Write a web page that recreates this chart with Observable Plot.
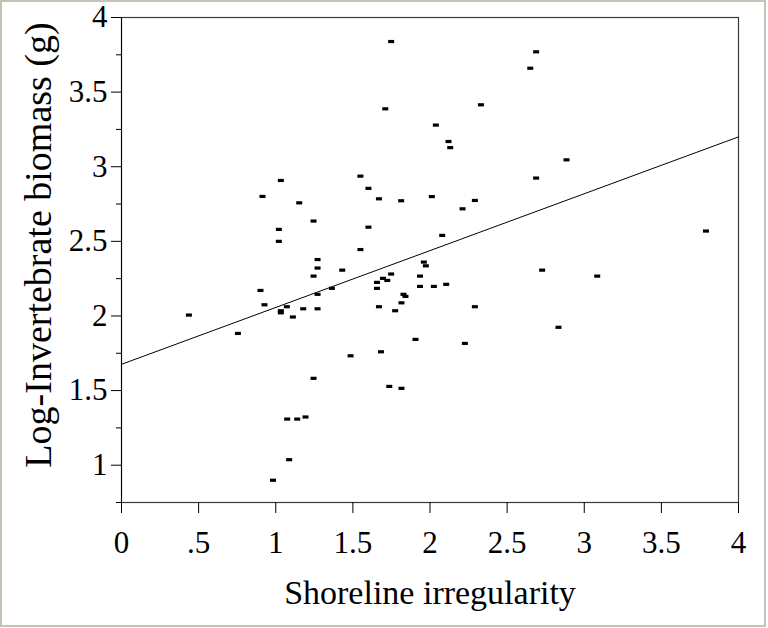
<!DOCTYPE html>
<html>
<head>
<meta charset="utf-8">
<script src="https://cdn.jsdelivr.net/npm/d3@7"></script>
<script src="https://cdn.jsdelivr.net/npm/@observablehq/plot@0.6"></script>
<style>
  html, body { margin: 0; padding: 0; background: #fff; }
  #wrap { position: relative; width: 768px; height: 628px; overflow: hidden; background: #fff; }
  #wrap svg { position: absolute; left: 0; top: 0; }
  #border { position: absolute; left: 0; top: 0; width: 762px; height: 623px; border: 2px solid #c6c2b6; pointer-events: none; }
</style>
</head>
<body>
<div id="wrap"><div id="border"></div></div>
<script>
// ---- data ----
const shorelineIrregularity = [
  1.748, 1.710, 1.033, 0.914, 1.152, 1.245, 1.020, 1.020, 1.549, 1.601,
  1.669, 1.813, 2.012, 1.601, 1.549, 1.271, 2.688, 2.650, 2.330, 2.038,
  2.120, 2.131, 2.885, 2.688, 2.291, 2.211, 2.079, 3.789, 1.271, 1.245,
  1.431, 0.901, 0.927, 1.271, 1.364, 1.033, 1.033, 1.072, 1.111, 1.178,
  1.271, 1.656, 1.656, 1.695, 1.723, 1.748, 1.669, 1.774, 1.815, 1.828,
  1.841, 1.935, 1.935, 1.960, 1.973, 2.025, 2.105, 2.727, 3.084, 2.291,
  2.833, 2.226, 0.437, 0.755, 1.906, 1.682, 1.485, 1.245, 1.736, 1.815,
  1.074, 1.139, 1.193, 1.087, 0.982
];
const logInvertebrateBiomass = [
  3.839, 3.388, 2.908, 2.801, 2.758, 2.636, 2.580, 2.500, 2.937, 2.855,
  2.785, 2.772, 2.800, 2.595, 2.445, 2.378, 3.770, 3.660, 3.415, 3.279,
  3.169, 3.128, 3.046, 2.924, 2.774, 2.718, 2.540, 2.569, 2.321, 2.267,
  2.307, 2.171, 2.075, 2.145, 2.185, 2.035, 2.021, 2.062, 1.993, 2.048,
  2.048, 2.225, 2.185, 2.252, 2.238, 2.281, 2.062, 2.035, 2.088, 2.145,
  2.131, 2.267, 2.198, 2.361, 2.336, 2.198, 2.212, 2.307, 2.267, 2.062,
  1.924, 1.816, 2.006, 1.883, 1.843, 1.760, 1.733, 1.582, 1.528, 1.515,
  1.309, 1.309, 1.323, 1.037, 0.899
];
const fitIntercept = 1.676;
const fitSlope = 0.381;

const xDomain = [0, 4];
const yDomain = [0.75, 4];
const xTicks = [0, 0.5, 1, 1.5, 2, 2.5, 3, 3.5, 4];
const xTickLabels = ["0", ".5", "1", "1.5", "2", "2.5", "3", "3.5", "4"];
const yTicks = [1, 1.5, 2, 2.5, 3, 3.5, 4];
const yTickLabels = ["1", "1.5", "2", "2.5", "3", "3.5", "4"];
const yMinorTicks = [0.75, 1.25, 1.75, 2.25, 2.75, 3.25, 3.75];
const xTitle = "Shoreline irregularity";
const yTitle = "Log-Invertebrate biomass (g)";

// ---- build ----
const points = shorelineIrregularity.map((x, i) => ({x, y: logInvertebrateBiomass[i]}));
const fitLine = xDomain.map(x => ({x, y: fitIntercept + fitSlope * x}));
const xLabel = new Map(xTicks.map((t, i) => [t, xTickLabels[i]]));
const yLabel = new Map(yTicks.map((t, i) => [t, yTickLabels[i]]));

const bar = { draw(ctx) { ctx.rect(-3, -1.6, 6, 3.2); } };

const chart = Plot.plot({
  width: 768,
  height: 628,
  marginLeft: 121,
  marginRight: 30,
  marginTop: 17,
  marginBottom: 126,
  style: {fontFamily: "'Liberation Serif', 'Times New Roman', serif", color: "#000", background: "transparent", overflow: "visible"},
  x: {domain: xDomain},
  y: {domain: yDomain},
  marks: [
    Plot.frame({stroke: "#3a3a3a", strokeWidth: 1.2}),
    Plot.axisX({ticks: xTicks, tickFormat: d => xLabel.get(d), tickSize: 11, tickPadding: 17, fontSize: 31, label: null, stroke: "#000"}),
    Plot.axisY({ticks: yTicks, tickFormat: d => yLabel.get(d), tickSize: 10, tickPadding: 4, fontSize: 31, label: null, stroke: "#000"}),
    Plot.axisY({ticks: yMinorTicks, tickFormat: () => "", tickSize: 5, label: null, stroke: "#000"}),
    Plot.ruleX([xDomain[0]], {stroke: "#000"}),
    Plot.line(fitLine, {x: "x", y: "y", stroke: "#000", strokeWidth: 1}),
    Plot.dot(points, {x: "x", y: "y", symbol: bar, fill: "#000", stroke: null, r: 3}),
    Plot.text([xTitle], {frameAnchor: "bottom", textAnchor: "middle", dy: 101, fontSize: 34, fill: "#000"}),
    Plot.text([yTitle], {frameAnchor: "left", textAnchor: "middle", rotate: -90, dx: -83, dy: -15, fontSize: 38, fill: "#000"})
  ]
});
document.getElementById("wrap").insertBefore(chart, document.getElementById("border"));
</script>
</body>
</html>
